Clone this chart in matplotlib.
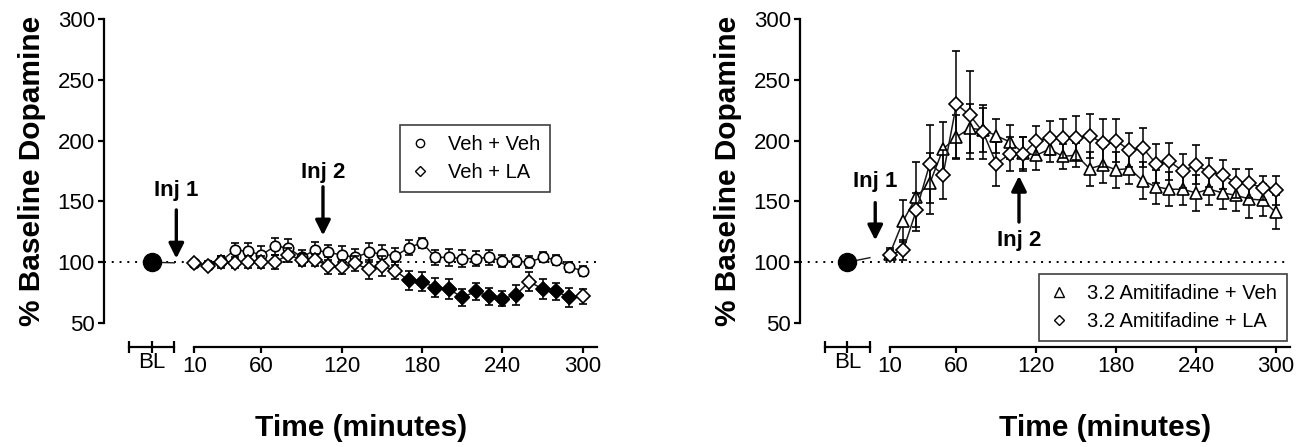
import numpy as np
import matplotlib
matplotlib.use('Agg')
import matplotlib.pyplot as plt
from matplotlib.lines import Line2D

plt.rcParams['font.family'] = ['Liberation Sans', 'DejaVu Sans']

###############################################################################
## Data                                                ##
###############################################################################
times = [10, 20, 30, 40, 50, 60, 70, 80, 90, 100, 110, 120, 130, 140, 150,
         160, 170, 180, 190, 200, 210, 220, 230, 240, 250, 260, 270, 280, 290, 300]
bl_value = 100

veh_veh = [99, 98, 101, 110, 109, 106, 113, 112, 104, 110, 108, 106, 104, 108, 107,
           105, 112, 116, 104, 104, 103, 103, 104, 101, 101, 100, 104, 102, 96, 93]
veh_veh_err = [2, 3, 4, 6, 7, 7, 7, 7, 6, 7, 6, 7, 7, 8, 7,
               7, 6, 4, 6, 7, 7, 6, 6, 5, 5, 5, 4, 4, 4, 4]
veh_la = [99, 97, 100, 99, 100, 100, 100, 106, 102, 102, 97, 96, 99, 94, 97,
          93, 85, 84, 79, 78, 71, 76, 72, 70, 73, 84, 78, 76, 71, 72]
veh_la_err = [2, 3, 5, 4, 5, 5, 6, 6, 5, 5, 7, 6, 6, 8, 8,
              7, 8, 8, 8, 8, 7, 7, 7, 6, 8, 8, 8, 7, 8, 6]
veh_la_sig = [0, 0, 0, 0, 0, 0, 0, 0, 0, 0, 0, 0, 0, 0, 0,
              0, 1, 1, 1, 1, 1, 1, 1, 1, 1, 0, 1, 1, 1, 0]

amit_veh = [107, 134, 154, 165, 193, 203, 210, 209, 204, 199, 190, 188, 193, 187, 188,
            177, 180, 176, 177, 167, 162, 160, 160, 157, 160, 157, 155, 152, 151, 141]
amit_veh_err = [5, 17, 28, 25, 22, 18, 20, 18, 14, 14, 13, 12, 11, 10, 10,
                14, 15, 15, 13, 15, 14, 14, 13, 15, 13, 13, 13, 16, 13, 14]
amit_la = [106, 110, 143, 181, 172, 230, 221, 207, 181, 189, 189, 200, 202, 202, 202,
           204, 198, 200, 192, 194, 181, 183, 175, 180, 174, 172, 165, 165, 161, 159]
amit_la_err = [4, 8, 14, 32, 20, 44, 36, 22, 18, 14, 14, 12, 14, 16, 18,
               18, 20, 18, 14, 16, 16, 15, 14, 16, 12, 12, 12, 12, 10, 12]

x_ticks = [10, 60, 120, 180, 240, 300]
y_ticks = [50, 100, 150, 200, 250, 300]

BL_X = -22
BL_SEG = (-39, -5)
XLIM = (-57.5, 310.6)
LINE_C = '0.1'

fig = plt.figure(figsize=(13.13, 4.47), dpi=100)
ax1 = fig.add_axes([0.0792, 0.2774, 0.3755, 0.6801])
ax2 = fig.add_axes([0.6093, 0.2774, 0.3732, 0.6801])


def setup_axes(ax, first_val):
    ax.set_xlim(XLIM)
    ax.set_ylim(50, 300)
    ax.spines['top'].set_visible(False)
    ax.spines['right'].set_visible(False)
    ax.spines['left'].set_linewidth(1.6)
    ax.spines['left'].set_bounds(50, 300)
    ax.spines['bottom'].set_linewidth(1.6)
    ax.spines['bottom'].set_position(('outward', 17))
    ax.spines['bottom'].set_bounds(10, XLIM[1])
    ax.set_xticks(x_ticks)
    ax.set_yticks(y_ticks)
    ax.tick_params(axis='both', labelsize=16, width=1.6, length=4.5, pad=2)

    # baseline segment of the broken x axis
    axb = ax.twiny()
    axb.set_xlim(ax.get_xlim())
    for s in ['top', 'left', 'right']:
        axb.spines[s].set_visible(False)
    axb.spines['bottom'].set_visible(True)
    axb.spines['bottom'].set_linewidth(1.6)
    axb.spines['bottom'].set_position(('outward', 17))
    axb.spines['bottom'].set_bounds(*BL_SEG)
    axb.xaxis.set_ticks_position('bottom')
    axb.xaxis.set_label_position('bottom')
    axb.set_xticks([BL_SEG[0], BL_X, BL_SEG[1]])
    axb.set_xticklabels(['', 'BL', ''])
    axb.tick_params(axis='x', labelsize=16, width=1.6, length=8,
                    direction='inout', pad=0)

    ax.axhline(100, ls=(0, (1, 3)), color='black', lw=1.4, zorder=1)
    # line from BL toward the first sample, cut at the axis gap
    end_y = bl_value + (first_val - bl_value) * (BL_SEG[1] - BL_X) / (times[0] - BL_X)
    ax.plot([BL_X, BL_SEG[1]], [bl_value, end_y], color=LINE_C, lw=1, zorder=2)
    ax.plot(BL_X, bl_value, 'o', ms=13, color='black', zorder=6, clip_on=False)

    ax.set_ylabel('% Baseline Dopamine', fontsize=21.5, fontweight='bold')
    ax.yaxis.set_label_coords(-0.118, 0.5)
    ax.set_xlabel('Time (minutes)', fontsize=21.5, fontweight='bold')


def injection(ax, x, tail, tip, text_y, label):
    ax.annotate('', xy=(x, tip), xytext=(x, tail),
                arrowprops=dict(arrowstyle='-|>,head_width=0.45,head_length=0.9',
                                color='black', lw=2.4, shrinkA=0, shrinkB=0))
    ax.text(x, text_y, label, ha='center', va='center', fontsize=16,
            fontweight='bold')


ebar = dict(color=LINE_C, mec='black', mfc='white', lw=1.1, elinewidth=1.1,
            capsize=3.2, capthick=1.1, ecolor='black', mew=1.2)

###############################################################################
## Left panel                                                                ##
###############################################################################
setup_axes(ax1, veh_veh[0])
ax1.errorbar(times, veh_veh, yerr=veh_veh_err, fmt='-o', ms=7.5, zorder=3, **ebar)
ax1.errorbar(times, veh_la, yerr=veh_la_err, fmt='-D', ms=7, zorder=4, **ebar)
sig_t = [t for t, s in zip(times, veh_la_sig) if s]
sig_v = [v for v, s in zip(veh_la, veh_la_sig) if s]
ax1.plot(sig_t, sig_v, 'D', ms=7, color='black', zorder=5)
ax1.xaxis.set_label_coords(0.521, -0.30)

injection(ax1, -3.5, 143, 103, 159, 'Inj 1')
injection(ax1, 106, 162, 122, 174, 'Inj 2')

h1 = [Line2D([], [], marker='o', ls='none', mfc='white', mec='black', ms=6, mew=1),
      Line2D([], [], marker='D', ls='none', mfc='white', mec='black', ms=5, mew=1)]
leg = ax1.legend(h1, ['Veh + Veh', 'Veh + LA'], loc='upper right',
                 bbox_to_anchor=(0.905, 0.651), fontsize=14.5, fancybox=False,
                 edgecolor='0.25', framealpha=1, handlelength=1, handletextpad=0.9,
                 borderpad=0.5, labelspacing=0.45, borderaxespad=0)
leg.get_frame().set_linewidth(1.2)

###############################################################################
## Right panel                                                               ##
###############################################################################
setup_axes(ax2, amit_veh[0])
ax2.errorbar(times, amit_veh, yerr=amit_veh_err, fmt='-^', ms=8.5, zorder=3, **ebar)
ax2.errorbar(times, amit_la, yerr=amit_la_err, fmt='-D', ms=7, zorder=4, **ebar)
ax2.xaxis.set_label_coords(0.622, -0.30)

injection(ax2, -1, 149, 118, 166, 'Inj 1')
injection(ax2, 107, 133, 171, 118, 'Inj 2')

h2 = [Line2D([], [], marker='^', ls='none', mfc='white', mec='black', ms=6.5, mew=1),
      Line2D([], [], marker='D', ls='none', mfc='white', mec='black', ms=5, mew=1)]
leg = ax2.legend(h2, ['3.2 Amitifadine + Veh', '3.2 Amitifadine + LA'],
                 loc='upper right', bbox_to_anchor=(0.994, 0.161), fontsize=14.5,
                 fancybox=False, edgecolor='0.25', framealpha=1, handlelength=1,
                 handletextpad=0.9, borderpad=0.5, labelspacing=0.45,
                 borderaxespad=0)
leg.get_frame().set_linewidth(1.2)
leg.set_zorder(10)

fig.savefig('out.png', dpi=100)
